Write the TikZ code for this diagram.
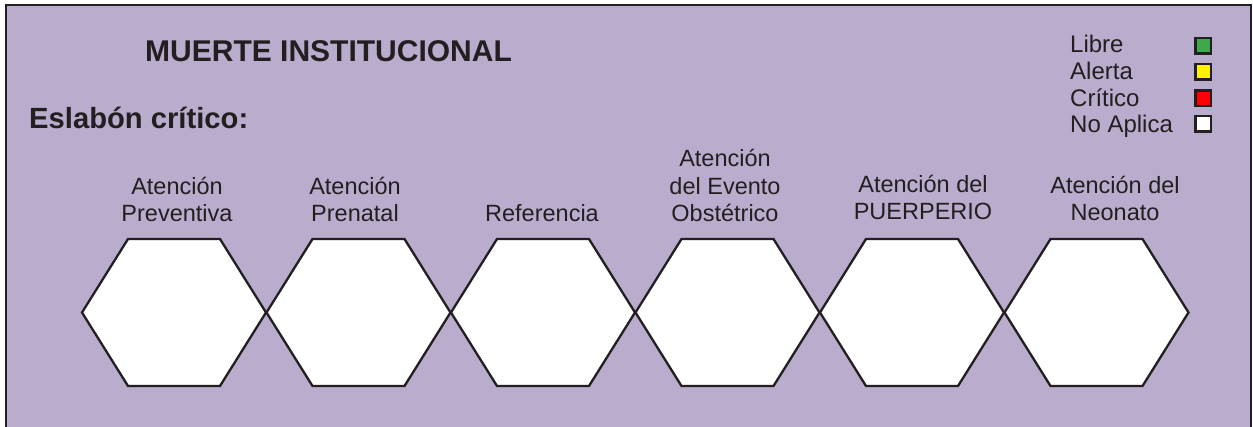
\documentclass[tikz,border=0pt]{standalone}
\usepackage{fontspec}
\setmainfont{Liberation Sans}
\definecolor{lav}{RGB}{185,172,204}
\definecolor{ink}{RGB}{35,31,32}
\definecolor{lgreen}{RGB}{60,170,75}
\definecolor{lyellow}{RGB}{255,242,0}
\definecolor{lred}{RGB}{255,0,0}
\begin{document}
\begin{tikzpicture}[x=1pt,y=-1pt,
  lbl/.style={font=\fontsize{23.5}{27.5}\selectfont, text=ink, align=center, inner sep=0pt, anchor=south},
  legtxt/.style={font=\fontsize{24}{28}\selectfont, text=ink, inner sep=0pt, anchor=base west},
  swatch/.style={draw=ink, line width=2.5pt, minimum size=15.5pt, inner sep=0pt},
  hexfill/.style={fill=white},
  hexline/.style={draw=ink, line width=2.3pt, line join=miter},
  heading/.style={font=\bfseries\fontsize{30}{34}\selectfont, text=ink, inner sep=0pt, anchor=base west}]
\useasboundingbox (0,0) rectangle (1253,427);
\fill[white] (0,0) rectangle (1253,427);
\fill[lav] (6,5) rectangle (1251,440);
\draw[ink, line width=2pt] (6,440) -- (6,5) -- (1251,5) -- (1251,440);

\node[heading] (title) at (145,62) {MUERTE INSTITUCIONAL};
\node[heading, font=\bfseries\fontsize{29.2}{34}\selectfont] (eslabon) at (29,129) {Eslabón crítico:};

\node[legtxt] (libre) at (1070,53) {Libre};
\node[legtxt] (alerta) at (1070,80) {Alerta};
\node[legtxt] (critico) at (1070,106.5) {Crítico};
\node[legtxt] (noaplica) at (1070,133) {No Aplica};
\node[swatch, fill=lgreen] (sq1) at (1203,46) {};
\node[swatch, fill=lyellow] (sq2) at (1203,72) {};
\node[swatch, fill=lred] (sq3) at (1203,98.5) {};
\node[swatch, fill=white] (sq4) at (1203,124) {};

\foreach \i/\cx in {1/174,2/358.5,3/543,4/727.5,5/912,6/1096.5} {
  \fill[hexfill] (\cx-92,312.5) -- (\cx-46,239) -- (\cx+46,239) -- (\cx+92,312.5) -- (\cx+46,386) -- (\cx-46,386) -- cycle;
  \coordinate (h\i) at (\cx,312.5);
}
\foreach \cx in {174,358.5,543,727.5,912,1096.5} {
  \draw[hexline] (\cx-92,312.5) -- (\cx-46,239) -- (\cx+46,239) -- (\cx+92,312.5) -- (\cx+46,386) -- (\cx-46,386) -- cycle;
}

\node[lbl] (l1) at (177,222) {Atención\\Preventiva};
\node[lbl] (l2) at (355,222) {Atención\\Prenatal};
\node[lbl] (l3) at (542,222) {Referencia};
\node[lbl] (l4) at (725,222) {Atención\\del Evento\\Obstétrico};
\node[lbl] (l5) at (923,220) {Atención del\\PUERPERIO};
\node[lbl] (l6) at (1115,221) {Atención del\\Neonato};
\end{tikzpicture}
\end{document}
